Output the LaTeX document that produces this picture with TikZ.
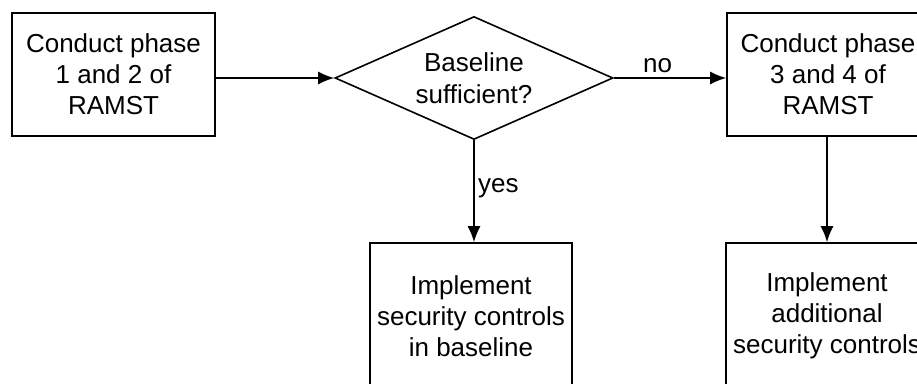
\documentclass[tikz,border=0pt]{standalone}
\usepackage{fontspec}
\setmainfont{Liberation Sans}
\usepackage{tikz}
\usetikzlibrary{positioning,arrows.meta,shapes.geometric}
\tikzset{
  blk/.style ={draw=black, fill=white, line width=1.6pt, align=center,
               font=\fontsize{26}{31}\selectfont, inner sep=0pt},
  dec/.style ={draw=black, fill=white, line width=1.6pt, shape=diamond, aspect=2.26,
               align=center, font=\fontsize{26}{32}\selectfont, inner sep=0pt,
               minimum width=278pt, minimum height=123pt},
  ar/.style  ={-{Latex[length=16pt,width=13pt]}, draw=black, line width=1.6pt},
  lbl/.style ={font=\fontsize{26}{31}\selectfont},
}
\begin{document}
\begin{tikzpicture}[x=1pt,y=1pt]
\path[use as bounding box,clip] (0,0) rectangle (917,383);

% top row
\node[blk,minimum width=203pt,minimum height=123pt] (phaseA) at (113.5,308.5)
   {Conduct phase\\1 and 2 of\\RAMST};
\node[dec] (base) at (474,305) {Baseline\\sufficient?};
\node[blk,minimum width=202pt,minimum height=123pt] (phaseB) at (828,308.5)
   {Conduct phase\\3 and 4 of\\RAMST};

% bottom row
\node[blk,minimum width=202pt,minimum height=146pt] (implA) at (471,67)
   {Implement\\security controls\\in baseline};
\node[blk,minimum width=202pt,minimum height=146pt] (implB) at (827,67)
   {Implement\\additional\\security controls};

% connectors
\draw[ar] (phaseA.east |- base.west) -- (base.west);
\draw[ar] (base.east) -- (base.east -| phaseB.west)
   node[pos=0.39,above=1pt,lbl] {no};
\draw[ar] (base.south) -- (base.south |- implA.north)
   node[pos=0.47,right,lbl] {yes};
\draw[ar] (phaseB.south -| implB.north) -- (implB.north);
\end{tikzpicture}
\end{document}
